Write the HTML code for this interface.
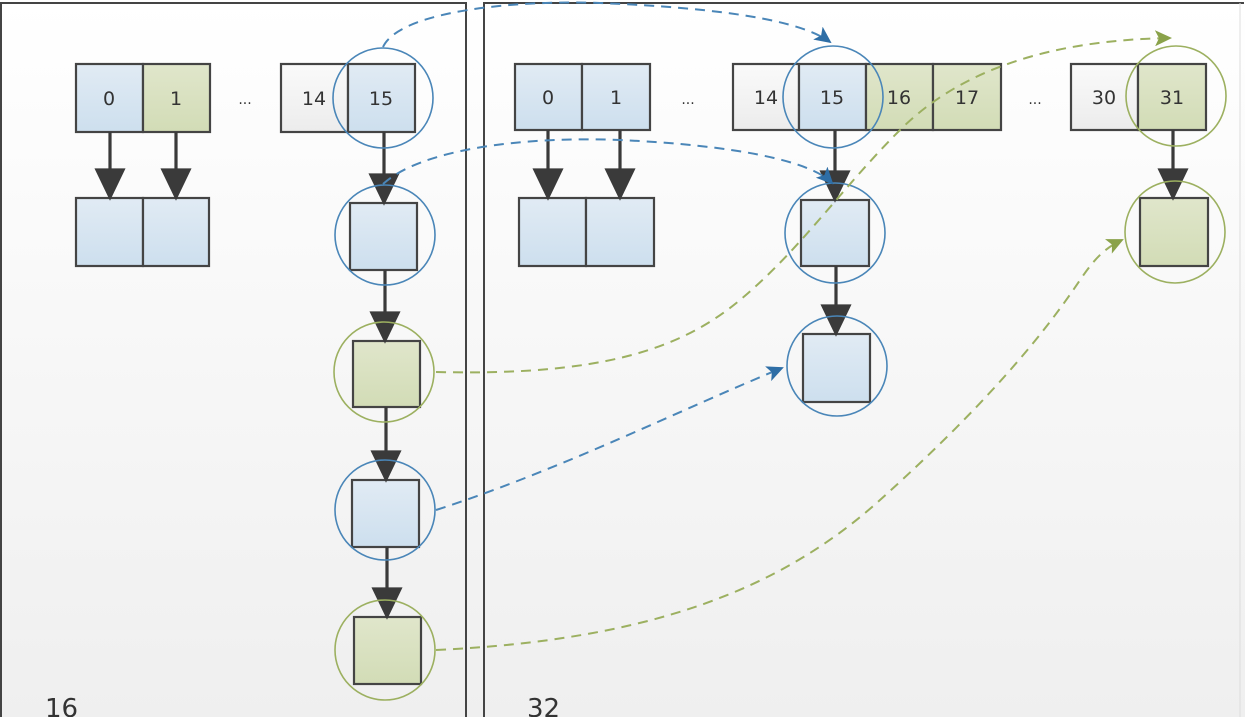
<!DOCTYPE html>
<html><head><meta charset="utf-8"><style>
html,body{margin:0;padding:0;background:#fff}
svg{display:block}
text{font-family:"DejaVu Sans","Liberation Sans",sans-serif;fill:#333}
</style></head><body>
<svg width="1245" height="717" viewBox="0 0 1245 717" xmlns="http://www.w3.org/2000/svg">
<defs>
<linearGradient id="bg" x1="0" y1="0" x2="0" y2="1"><stop offset="0" stop-color="#ffffff"/><stop offset="1" stop-color="#efefef"/></linearGradient>
<linearGradient id="bl" x1="0" y1="0" x2="0" y2="1"><stop offset="0" stop-color="#e1ebf4"/><stop offset="1" stop-color="#cddfee"/></linearGradient>
<linearGradient id="gr" x1="0" y1="0" x2="0" y2="1"><stop offset="0" stop-color="#e0e6cb"/><stop offset="1" stop-color="#d2dcb6"/></linearGradient>
<linearGradient id="wh" x1="0" y1="0" x2="0" y2="1"><stop offset="0" stop-color="#fafafa"/><stop offset="1" stop-color="#ececec"/></linearGradient>
<marker id="ab" markerWidth="17" markerHeight="16" refX="15" refY="8" orient="auto" markerUnits="userSpaceOnUse" viewBox="0 0 17 16"><path d="M0,0 L17,8 L0,16 L4,8 Z" fill="#2e6ea6"/></marker>
<marker id="ag" markerWidth="17" markerHeight="16" refX="15" refY="8" orient="auto" markerUnits="userSpaceOnUse" viewBox="0 0 17 16"><path d="M0,0 L17,8 L0,16 L4,8 Z" fill="#8aa24a"/></marker>
</defs>
<rect x="0" y="0" width="1245" height="717" fill="url(#bg)"/>
<path d="M1,717 V3 H466 V717" fill="none" stroke="#444" stroke-width="2"/>
<path d="M484,717 V3 H1244" fill="none" stroke="#444" stroke-width="2"/>
<line x1="1240" y1="3" x2="1240" y2="717" stroke="#ddd" stroke-width="1"/>

<g stroke="#444" stroke-width="2.2">
<rect x="76" y="64" width="67" height="68" fill="url(#bl)"/>
<rect x="143" y="64" width="67" height="68" fill="url(#gr)"/>
<rect x="281" y="64" width="67" height="68" fill="url(#wh)"/>
<rect x="348" y="64" width="67" height="68" fill="url(#bl)"/>
<rect x="76" y="198" width="67" height="68" fill="url(#bl)"/>
<rect x="143" y="198" width="66" height="68" fill="url(#bl)"/>
<rect x="350" y="203" width="67" height="67" fill="url(#bl)"/>
<rect x="353" y="341" width="67" height="66" fill="url(#gr)"/>
<rect x="352" y="480" width="67" height="67" fill="url(#bl)"/>
<rect x="354" y="617" width="67" height="67" fill="url(#gr)"/>
<rect x="515" y="64" width="67" height="66" fill="url(#bl)"/>
<rect x="582" y="64" width="68" height="66" fill="url(#bl)"/>
<rect x="733" y="64" width="66" height="66" fill="url(#wh)"/>
<rect x="799" y="64" width="67" height="66" fill="url(#bl)"/>
<rect x="866" y="64" width="67" height="66" fill="url(#gr)"/>
<rect x="933" y="64" width="68" height="66" fill="url(#gr)"/>
<rect x="1071" y="64" width="67" height="66" fill="url(#wh)"/>
<rect x="1138" y="64" width="68" height="66" fill="url(#gr)"/>
<rect x="519" y="198" width="67" height="68" fill="url(#bl)"/>
<rect x="586" y="198" width="68" height="68" fill="url(#bl)"/>
<rect x="801" y="200" width="68" height="66" fill="url(#bl)"/>
<rect x="803" y="334" width="67" height="68" fill="url(#bl)"/>
<rect x="1140" y="198" width="68" height="68" fill="url(#gr)"/>
</g>

<g stroke="#3a3a3a" stroke-width="3.2" fill="#3a3a3a">
<line x1="110" y1="132" x2="110" y2="172"/><path d="M97,170 L123,170 L110,197 Z"/>
<line x1="176" y1="132" x2="176" y2="172"/><path d="M163,170 L189,170 L176,197 Z"/>
<line x1="384" y1="132" x2="384" y2="178"/><path d="M371,175 L397,175 L384,202 Z"/>
<line x1="385" y1="270" x2="385" y2="316"/><path d="M372,313 L398,313 L385,340 Z"/>
<line x1="386" y1="407" x2="386" y2="455"/><path d="M373,452 L399,452 L386,479 Z"/>
<line x1="387" y1="547" x2="387" y2="592"/><path d="M374,589 L400,589 L387,616 Z"/>
<line x1="548" y1="130" x2="548" y2="172"/><path d="M535,170 L561,170 L548,197 Z"/>
<line x1="620" y1="130" x2="620" y2="172"/><path d="M607,170 L633,170 L620,197 Z"/>
<line x1="835" y1="130" x2="835" y2="174"/><path d="M822,172 L848,172 L835,199 Z"/>
<line x1="836" y1="266" x2="836" y2="308"/><path d="M823,306 L849,306 L836,333 Z"/>
<line x1="1173" y1="130" x2="1173" y2="172"/><path d="M1160,170 L1186,170 L1173,197 Z"/>
</g>

<g fill="none" stroke-width="1.6">
<circle cx="383" cy="98" r="50" stroke="#4a86b8"/>
<circle cx="385" cy="235" r="50" stroke="#4a86b8"/>
<circle cx="384" cy="372" r="50" stroke="#9cb060"/>
<circle cx="385" cy="510" r="50" stroke="#4a86b8"/>
<circle cx="385" cy="650" r="50" stroke="#9cb060"/>
<ellipse cx="833" cy="97" rx="50" ry="51" stroke="#4a86b8"/>
<ellipse cx="835" cy="233" rx="50" ry="50" stroke="#4a86b8"/>
<ellipse cx="837" cy="366" rx="50" ry="50" stroke="#4a86b8"/>
<ellipse cx="1176" cy="96" rx="50" ry="50" stroke="#9cb060"/>
<ellipse cx="1175" cy="232" rx="50" ry="51" stroke="#9cb060"/>
</g>

<g fill="none" stroke-width="2" stroke-dasharray="10,7">
<path d="M383,47 C400,10 520,0 600,3 C720,8 800,20 830,42" stroke="#4a86b8" marker-end="url(#ab)"/>
<path d="M383,184 C420,150 520,136 620,140 C730,145 810,160 832,183" stroke="#4a86b8" marker-end="url(#ab)"/>
<path d="M436,372 C600,376 680,350 740,300 C800,250 840,190 900,130 C960,70 1050,40 1170,38" stroke="#9cb060" marker-end="url(#ag)"/>
<path d="M436,510 C560,470 680,410 782,368" stroke="#4a86b8" marker-end="url(#ab)"/>
<path d="M436,650 C650,640 780,590 880,500 C980,410 1040,340 1080,280 C1095,258 1105,248 1122,240" stroke="#9cb060" marker-end="url(#ag)"/>
</g>

<g font-size="19" text-anchor="middle">
<text x="109" y="105">0</text>
<text x="176" y="105">1</text>
<text x="314" y="105">14</text>
<text x="381" y="105">15</text>
<text x="548" y="104">0</text>
<text x="616" y="104">1</text>
<text x="766" y="104">14</text>
<text x="832" y="104">15</text>
<text x="899" y="104">16</text>
<text x="967" y="104">17</text>
<text x="1104" y="104">30</text>
<text x="1172" y="104">31</text>
</g>
<g font-size="14" text-anchor="middle" fill="#555">
<text x="245" y="104">...</text>
<text x="688" y="104">...</text>
<text x="1035" y="104">...</text>
</g>
<text x="45" y="717" font-size="26">16</text>
<text x="527" y="717" font-size="26">32</text>
</svg>
</body></html>
